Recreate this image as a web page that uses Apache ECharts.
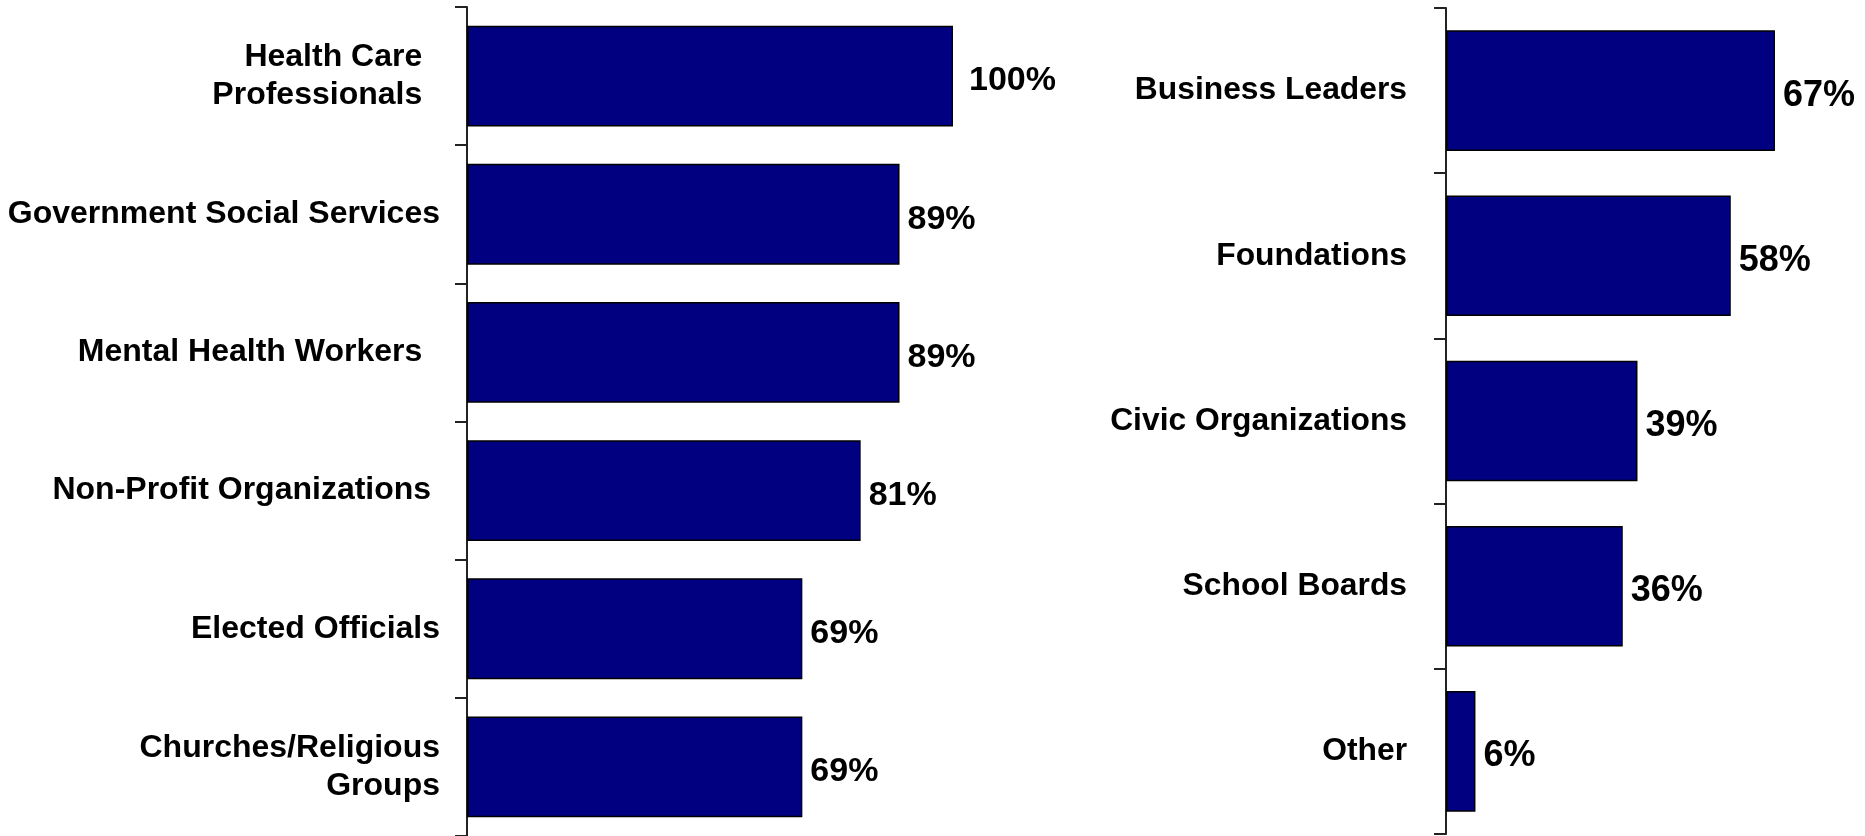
<!DOCTYPE html>
<html>
<head>
<meta charset="utf-8">
<script src="https://cdn.jsdelivr.net/npm/echarts@6/dist/echarts.min.js"></script>
<style>
html,body{margin:0;padding:0;background:#fff;}
#chart{width:1865px;height:836px;}
</style>
</head>
<body>
<div id="chart"></div>
<script>
// Data
const leftCategories = [
  "Health Care  \nProfessionals  ",
  "Government Social Services",
  "Mental Health Workers  ",
  "Non-Profit Organizations ",
  "Elected Officials",
  "Churches/Religious\nGroups"
];
const leftValues = [100, 89, 89, 81, 69, 69];

const rightCategories = [
  "Business Leaders",
  "Foundations",
  "Civic Organizations",
  "School Boards",
  "Other"
];
const rightValues = [67, 58, 39, 36, 6];

const FONT = 'Arial, "Liberation Sans", Helvetica, sans-serif';
const chart = echarts.init(document.getElementById('chart'), null, {renderer: 'canvas'});

function yAxisFor(gridIndex, cats, margin, size) {
  return {
    type: 'category',
    gridIndex: gridIndex,
    data: cats,
    inverse: true,
    axisLine: {show: true, lineStyle: {color: '#222', width: 2}},
    axisTick: {show: true, length: 12, lineStyle: {color: '#222', width: 2}},
    axisLabel: {
      margin: margin,
      color: '#000',
      fontFamily: FONT,
      fontWeight: 'bold',
      fontSize: size,
      lineHeight: 38,
      align: 'right'
    }
  };
}

function seriesFor(idx, values, size) {
  return {
    type: 'bar',
    xAxisIndex: idx,
    yAxisIndex: idx,
    data: values.map((v) => (v >= 100 ? {value: v, label: {distance: 16}} : v)),
    barCategoryGap: '27%',
    itemStyle: {color: '#000080', borderColor: '#000', borderWidth: 1.5},
    label: {
      show: true,
      position: 'right',
      distance: 8,
      offset: [0, 5],
      formatter: '{c}%',
      color: '#000',
      fontFamily: FONT,
      fontWeight: 'bold',
      fontSize: size
    },
    silent: true,
    animation: false
  };
}

chart.setOption({
  backgroundColor: '#fff',
  animation: false,
  grid: [
    {left: 467, top: 7, width: 486, height: 829, outerBoundsMode: 'none', containLabel: false},
    {left: 1446, top: 8, width: 491, height: 826, outerBoundsMode: 'none', containLabel: false}
  ],
  xAxis: [
    {type: 'value', gridIndex: 0, min: 0, max: 100, show: false},
    {type: 'value', gridIndex: 1, min: 0, max: 100, show: false}
  ],
  yAxis: [
    yAxisFor(0, leftCategories, 27, 32),
    yAxisFor(1, rightCategories, 39, 31.8)
  ],
  series: [
    seriesFor(0, leftValues, 34),
    seriesFor(1, rightValues, 36)
  ]
});
</script>
</body>
</html>
